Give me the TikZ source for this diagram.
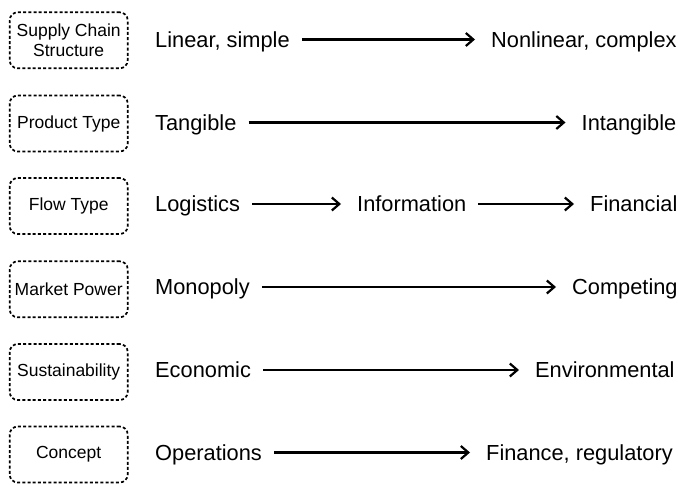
\documentclass[tikz,border=0pt]{standalone}
\usepackage{fontspec}
\setmainfont{Liberation Sans}
\usetikzlibrary{arrows.meta}
\tikzset{
  catbox/.style={draw, line width=1.7pt, dash pattern=on 3pt off 2.2pt, rounded corners=8pt,
    minimum width=118pt, minimum height=56pt, inner sep=0pt, align=center,
    font=\fontsize{17.5}{20}\selectfont},
  lbl/.style={anchor=west, inner sep=0pt, text height=15.5pt, text depth=0pt,
    font=\fontsize{21.8}{26}\selectfont},
  arr/.style={-{Straight Barb[length=7.5pt,width=13pt,line width=2.2pt]}, line width=2.2pt,
    shorten <=12pt, shorten >=16pt},
}
\begin{document}
\begin{tikzpicture}[x=1pt,y=-1pt]
\useasboundingbox (0,0) rectangle (678,487);
% boxes
\node[catbox] (b1) at (68.7,40.3) {Supply Chain\\[0pt]Structure};
\node[catbox] (b2) at (68.7,123.5) {Product Type};
\node[catbox] (b3) at (68.7,206) {Flow Type};
\node[catbox] (b4) at (68.7,289.3) {Market Power};
\node[catbox] (b5) at (68.7,372) {Sustainability};
\node[catbox] (b6) at (68.7,454.5) {Concept};
% row 1
\node[lbl] (l1) at (155,39.5) {Linear, simple};
\node[lbl] (r1) at (491,39.5) {Nonlinear, complex};
\draw[arr] (l1.east) -- (r1.west);
% row 2
\node[lbl] (l2) at (155,122.5) {Tangible};
\node[lbl] (r2) at (581.5,122.5) {Intangible};
\draw[arr] (l2.east) -- (r2.west);
% row 3
\node[lbl] (l3) at (155,204) {Logistics};
\node[lbl] (m3) at (357,204) {Information};
\node[lbl] (r3) at (590,204) {Financial};
\draw[arr] (l3.east) -- (m3.west);
\draw[arr] (m3.east) -- (r3.west);
% row 4
\node[lbl] (l4) at (155,287) {Monopoly};
\node[lbl] (r4) at (572,287) {Competing};
\draw[arr] (l4.east) -- (r4.west);
% row 5
\node[lbl] (l5) at (155,370) {Economic};
\node[lbl] (r5) at (535,370) {Environmental};
\draw[arr] (l5.east) -- (r5.west);
% row 6
\node[lbl] (l6) at (155,452.5) {Operations};
\node[lbl] (r6) at (486,452.5) {Finance, regulatory};
\draw[arr] (l6.east) -- (r6.west);
\end{tikzpicture}
\end{document}
